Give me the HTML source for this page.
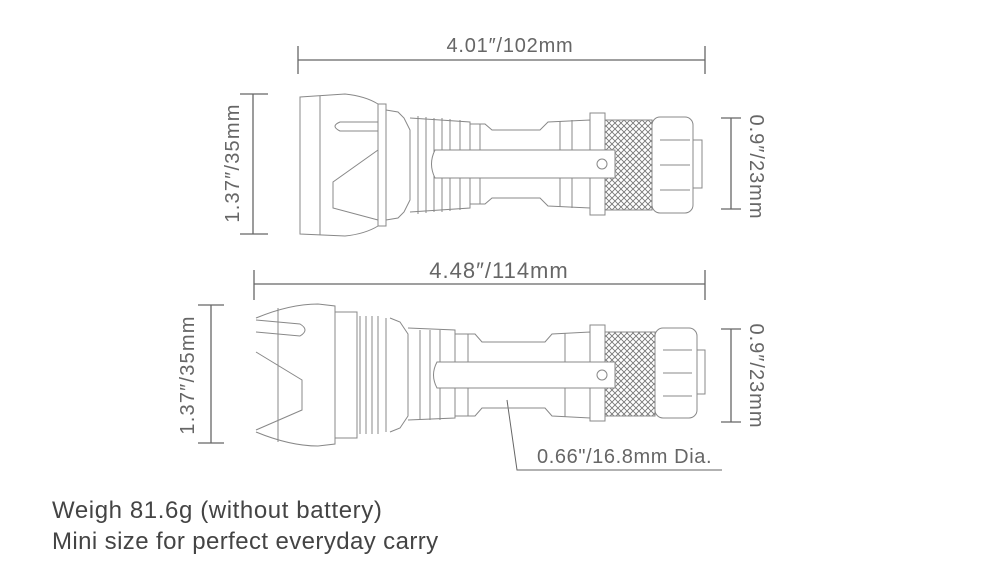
<!DOCTYPE html>
<html><head><meta charset="utf-8"><style>
html,body{margin:0;padding:0;background:#fff;}
body{width:1000px;height:565px;overflow:hidden;position:relative;font-family:"Liberation Sans",sans-serif;}
svg{position:absolute;left:0;top:0;}
</style></head><body>
<svg width="1000" height="565" viewBox="0 0 1000 565">
<defs>
<pattern id="kn" width="6" height="6" patternUnits="userSpaceOnUse">
<path d="M0,0 L6,6 M6,0 L0,6" stroke="#777" stroke-width="0.9"/>
</pattern>
</defs>
<g stroke="#666" stroke-width="1.3" fill="none">
<line x1="298" y1="60" x2="705" y2="60"/><line x1="298" y1="46" x2="298" y2="74"/><line x1="705" y1="46" x2="705" y2="74"/>
<line x1="253" y1="94" x2="253" y2="234"/><line x1="240" y1="94" x2="268" y2="94"/><line x1="240" y1="234" x2="268" y2="234"/>
<line x1="731" y1="118" x2="731" y2="209"/><line x1="721" y1="118" x2="741" y2="118"/><line x1="721" y1="209" x2="741" y2="209"/>
<line x1="254" y1="284" x2="705" y2="284"/><line x1="254" y1="270" x2="254" y2="300"/><line x1="705" y1="270" x2="705" y2="300"/>
<line x1="211" y1="305" x2="211" y2="443"/><line x1="198" y1="305" x2="224" y2="305"/><line x1="198" y1="443" x2="224" y2="443"/>
<line x1="731" y1="329" x2="731" y2="422"/><line x1="721" y1="329" x2="741" y2="329"/><line x1="721" y1="422" x2="741" y2="422"/>
<polyline points="507,400 517,470 722,470" stroke-width="1"/>
</g>
<g stroke="#888" stroke-width="1" fill="none">
<path d="M300,97 L345,94 Q365,96 378,104 L378,226 Q365,234 345,236 L300,234 Z"/>
<line x1="320" y1="96" x2="320" y2="235"/>
<path d="M378,122 L340,122 Q330,126 340,131 L378,131"/>
<path d="M378,150 L333,182 L333,208 L378,220"/>
<path d="M378,104 L386,104 L386,226 L378,226"/>
<path d="M386,110 L398,112 L404,118 L410,130 L410,200 L404,212 L398,218 L386,220"/>
<path d="M410,118 L470,122 L470,208 L410,212"/>
<line x1="418" y1="116" x2="418" y2="214"/><line x1="426" y1="117" x2="426" y2="213"/><line x1="434" y1="118" x2="434" y2="212"/><line x1="442" y1="118" x2="442" y2="212"/><line x1="450" y1="119" x2="450" y2="211"/><line x1="460" y1="120" x2="460" y2="210"/>
<path d="M470,124 L485,124 L492,130 L540,130 L548,122 L590,120 L590,208 L548,206 L540,198 L492,198 L485,204 L470,204"/>
<line x1="480" y1="124" x2="480" y2="204"/><line x1="560" y1="121" x2="560" y2="207"/><line x1="572" y1="120" x2="572" y2="208"/>
<rect x="590" y="113" width="15" height="102"/>
<rect x="605" y="120" width="47" height="90" fill="url(#kn)"/>
<rect x="652" y="117" width="41" height="96" rx="8"/>
<line x1="660" y1="140" x2="690" y2="140"/><line x1="660" y1="165" x2="690" y2="165"/><line x1="660" y1="190" x2="690" y2="190"/>
<rect x="693" y="140" width="9" height="48"/>
<path d="M435,150 L615,150 L615,178 L435,178 Q428,164 435,150 Z" fill="#fff"/>
<circle cx="602" cy="164" r="5"/>
<path d="M256,318 Q290,304 318,304 L335,306 L335,444 L318,446 Q290,446 256,432"/>
<line x1="278" y1="308" x2="278" y2="442"/>
<path d="M256,320 L300,324 Q310,330 300,336 L256,332"/>
<path d="M256,352 L302,380 L302,410 L256,430"/>
<rect x="335" y="312" width="22" height="126"/>
<line x1="360" y1="316" x2="360" y2="434"/><line x1="366" y1="316" x2="366" y2="434"/><line x1="372" y1="316" x2="372" y2="434"/><line x1="378" y1="316" x2="378" y2="434"/><line x1="386" y1="318" x2="386" y2="432"/>
<path d="M390,318 L400,322 L408,334 L408,416 L400,428 L390,432"/>
<path d="M408,328 L455,330 L455,418 L408,420"/>
<line x1="420" y1="330" x2="420" y2="420"/><line x1="430" y1="330" x2="430" y2="420"/><line x1="440" y1="330" x2="440" y2="420"/>
<path d="M455,334 L475,334 L482,342 L545,342 L552,334 L590,332 L590,418 L552,416 L545,408 L482,408 L475,416 L455,416"/>
<line x1="468" y1="334" x2="468" y2="416"/><line x1="565" y1="333" x2="565" y2="417"/>
<rect x="590" y="325" width="15" height="96"/>
<rect x="605" y="332" width="50" height="84" fill="url(#kn)"/>
<rect x="655" y="328" width="42" height="90" rx="8"/>
<line x1="663" y1="350" x2="692" y2="350"/><line x1="663" y1="373" x2="692" y2="373"/><line x1="663" y1="396" x2="692" y2="396"/>
<rect x="697" y="350" width="8" height="44"/>
<path d="M437,362 L615,362 L615,388 L437,388 Q430,375 437,362 Z" fill="#fff"/>
<circle cx="602" cy="375" r="5"/>
</g>
<g fill="#666" font-family="Liberation Sans, sans-serif" font-size="20">
<text x="510" y="52" text-anchor="middle" letter-spacing="0.8">4.01″/102mm</text>
<text x="499" y="278" text-anchor="middle" font-size="22" letter-spacing="1">4.48″/114mm</text>
<text transform="translate(239,163) rotate(-90)" text-anchor="middle" letter-spacing="1.2">1.37″/35mm</text>
<text transform="translate(194,375) rotate(-90)" text-anchor="middle" letter-spacing="1.2">1.37″/35mm</text>
<text transform="translate(750,167) rotate(90)" text-anchor="middle" letter-spacing="1">0.9″/23mm</text>
<text transform="translate(750,376) rotate(90)" text-anchor="middle" letter-spacing="1">0.9″/23mm</text>
<text x="537" y="463" letter-spacing="0.6">0.66"/16.8mm Dia.</text>
</g>
<g fill="#444" font-family="Liberation Sans, sans-serif" font-size="24">
<text x="52" y="518" letter-spacing="0.6">Weigh 81.6g (without battery)</text>
<text x="52" y="549" letter-spacing="0.4">Mini size for perfect everyday carry</text>
</g>
</svg>
</body></html>
